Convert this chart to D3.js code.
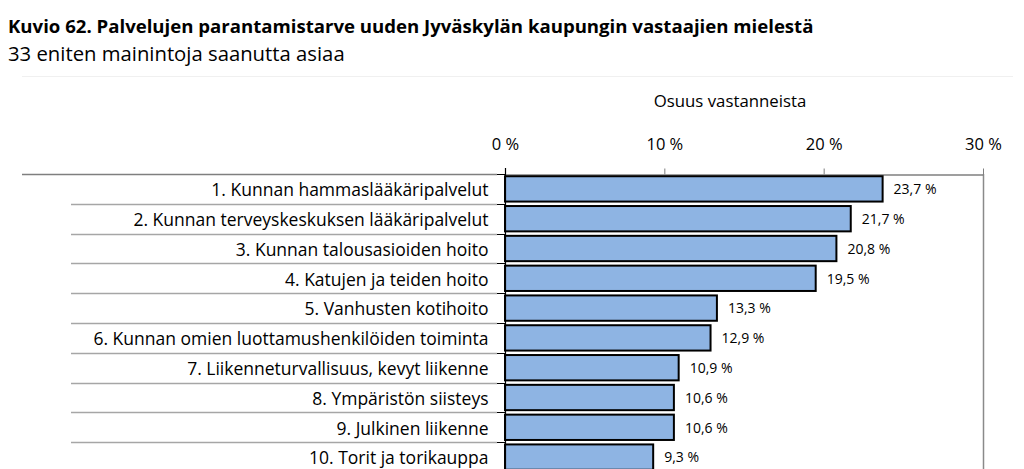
<!DOCTYPE html>
<meta charset='utf-8'>
<style type="text/css">
	body { margin: 0; background: #fff; }
	text { font-family: 'Open Sans', sans-serif; fill: #000; }
</style>
<body>
<div class="chart"></div>
<script src='https://cdn.jsdelivr.net/npm/d3@7/dist/d3.min.js'></script>
<script>

var categories = [
	'1. Kunnan hammaslääkäripalvelut',
	'2. Kunnan terveyskeskuksen lääkäripalvelut',
	'3. Kunnan talousasioiden hoito',
	'4. Katujen ja teiden hoito',
	'5. Vanhusten kotihoito',
	'6. Kunnan omien luottamushenkilöiden toiminta',
	'7. Liikenneturvallisuus, kevyt liikenne',
	'8. Ympäristön siisteys',
	'9. Julkinen liikenne',
	'10. Torit ja torikauppa'
];
var values = [23.7, 21.7, 20.8, 19.5, 13.3, 12.9, 10.9, 10.6, 10.6, 9.3];
var tickValues = [0, 10, 20, 30];

var title = 'Kuvio 62. Palvelujen parantamistarve uuden Jyväskylän kaupungin vastaajien mielestä',
	subtitle = '33 eniten mainintoja saanutta asiaa',
	axisTitle = 'Osuus vastanneista';

var width = 1024, height = 469,
	top0 = 174, rowH = 29.8,
	font = "'Open Sans', sans-serif";

var svg = d3.select('.chart')
	.append('svg')
	.attr('width', width)
	.attr('height', height);

var x = d3.scaleLinear()
	.domain([0, 30])
	.range([505, 983]);

var y = d3.scaleBand()
	.domain(categories)
	.range([top0, top0 + categories.length * rowH])
	.paddingInner(0.15)
	.paddingOuter(0.075);

var fmt = function(v){ return String(v).replace('.', ',') + ' %'; };

// titles
svg.append('text')
	.attr('x', 8).attr('y', 33)
	.style('font-size', '18.6px').style('font-weight', 'bold')
	.text(title);
svg.append('text')
	.attr('x', 8).attr('y', 61)
	.style('font-size', '20.3px')
	.text(subtitle);

// faint frame line
svg.append('line')
	.attr('x1', 22).attr('x2', 1013)
	.attr('y1', 76.5).attr('y2', 76.5)
	.attr('stroke', '#f0f0f0');

svg.append('text')
	.attr('x', 730).attr('y', 107)
	.attr('text-anchor', 'middle')
	.style('font-size', '16.8px')
	.text(axisTitle);

// right border of plot
svg.append('line')
	.attr('x1', x(30) + 0.5).attr('x2', x(30) + 0.5)
	.attr('y1', top0).attr('y2', height)
	.attr('stroke', '#8a8a8a').attr('stroke-width', 1.5);

// row separators in the label area
var boundaries = categories.map(function(d, i){ return top0 + i * rowH; });

svg.selectAll('.sep')
	.data(boundaries)
	.enter().append('line')
	.attr('class', 'sep')
	.attr('x1', function(d, i){ return i === 0 ? 22 : 71; })
	.attr('x2', x(0) - 8)
	.attr('y1', function(d){ return Math.round(d) + 0.5; })
	.attr('y2', function(d){ return Math.round(d) + 0.5; })
	.attr('stroke', function(d, i){ return i === 0 ? '#7f7f7f' : '#a6a6a6'; })
	.attr('stroke-width', 1.3);

svg.selectAll('.ltick')
	.data(boundaries)
	.enter().append('line')
	.attr('class', 'ltick')
	.attr('x1', x(0) - 8).attr('x2', x(0))
	.attr('y1', function(d){ return Math.round(d) + 0.5; })
	.attr('y2', function(d){ return Math.round(d) + 0.5; })
	.attr('stroke', '#000');

// top axis
var xAxis = svg.append('g')
	.attr('transform', 'translate(0,' + (top0 + 0.5) + ')')
	.call(d3.axisTop(x)
		.tickValues(tickValues)
		.tickSize(6)
		.tickSizeOuter(0)
		.tickPadding(19)
		.tickFormat(function(d){ return d + ' %'; }));
xAxis.select('.domain').attr('stroke', '#7f7f7f').attr('stroke-width', 1.5);
xAxis.selectAll('.tick line').attr('stroke', '#7f7f7f');
xAxis.selectAll('.tick text')
	.style('font-size', '16.5px')
	.style('font-family', font)
	.attr('fill', '#000');

// bars
svg.selectAll('.bar')
	.data(values)
	.enter().append('rect')
	.attr('class', 'bar')
	.attr('x', x(0))
	.attr('y', function(d, i){ return y(categories[i]); })
	.attr('width', function(d){ return x(d) - x(0); })
	.attr('height', y.bandwidth())
	.attr('fill', '#8eb4e3')
	.attr('stroke', '#000')
	.attr('stroke-width', 2);

// left axis line + labels
var yAxis = svg.append('g')
	.attr('transform', 'translate(' + (x(0) + 0.5) + ',0)')
	.call(d3.axisLeft(y).tickSize(0).tickPadding(17));
yAxis.select('.domain').remove();
yAxis.selectAll('.tick text')
	.attr('dy', '0.42em')
	.style('font-size', '17.5px')
	.style('font-family', font)
	.attr('fill', '#000');

svg.append('line')
	.attr('x1', x(0) + 0.5).attr('x2', x(0) + 0.5)
	.attr('y1', top0 - 6).attr('y2', height)
	.attr('stroke', '#000').attr('stroke-width', 1.2);

// value labels
svg.selectAll('.val')
	.data(values)
	.enter().append('text')
	.attr('class', 'val')
	.attr('x', function(d){ return x(d) + 11; })
	.attr('y', function(d, i){ return y(categories[i]) + y.bandwidth() / 2; })
	.attr('dy', '0.38em')
	.style('font-size', '14px')
	.text(fmt);

</script>
</body>
</html>
